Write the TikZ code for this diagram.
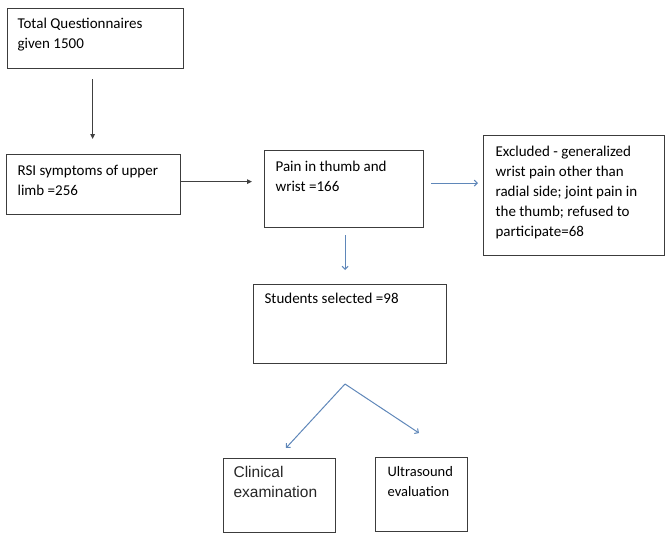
\documentclass[tikz,border=0pt]{standalone}
\usepackage{fontspec}
\setmainfont{Carlito}
\newfontfamily\arialfont{Liberation Sans}
\usetikzlibrary{arrows.meta}
\definecolor{flowblue}{RGB}{95,135,185}
\definecolor{boxgray}{RGB}{60,60,60}

\begin{document}
\begin{tikzpicture}[x=1pt, y=-1pt, line width=1.2pt,
  box/.style={draw=boxgray, anchor=north west, inner sep=0pt},
  txt/.style={anchor=north west, align=left, inner sep=0pt, font=\fontsize{15}{20}\selectfont},
  arialtxt/.style={txt, font=\arialfont\fontsize{15.5}{19.5}\selectfont, text=black!85},
  blackarrow/.style={draw=black!75, line width=1pt, -{Triangle[length=5pt, width=4.5pt]}},
  bluearrow/.style={draw=flowblue, line width=1pt, -{Straight Barb[length=3pt, width=6pt]}}]
  \useasboundingbox (0,0) rectangle (665,533); % page size
  % boxes
  \node[box, minimum width=176pt, minimum height=60pt] (total) at (7,8) {};
  \node[box, minimum width=174pt, minimum height=60pt] (rsi) at (6,154) {};
  \node[box, minimum width=159pt, minimum height=77pt] (pain) at (264,150) {};
  \node[box, minimum width=181pt, minimum height=120pt] (excl) at (483,135) {};
  \node[box, minimum width=193pt, minimum height=79pt] (students) at (253,284) {};
  \node[box, minimum width=112pt, minimum height=74pt] (clinical) at (223,458) {};
  \node[box, minimum width=92pt, minimum height=74pt] (ultra) at (375,457) {};
  % texts
  \node[txt] (total-t) at ([shift={(10pt,-9pt)}]total.north west) {Total Questionnaires\\given 1500};
  \node[txt] (rsi-t) at ([shift={(11pt,-11pt)}]rsi.north west) {RSI symptoms of upper\\limb =256};
  \node[txt] (pain-t) at ([shift={(11pt,-10pt)}]pain.north west) {Pain in thumb and\\wrist =166};
  \node[txt] (excl-t) at ([shift={(12pt,-10pt)}]excl.north west) {Excluded - generalized\\wrist pain other than\\radial side; joint pain in\\the thumb; refused to\\participate=68};
  \node[txt] (students-t) at ([shift={(11pt,-8pt)}]students.north west) {Students selected =98};
  \node[arialtxt] (clinical-t) at ([shift={(10pt,-8pt)}]clinical.north west) {Clinical\\examination};
  \node[txt, font=\fontsize{14.5}{19.5}\selectfont] (ultra-t) at ([shift={(12pt,-9pt)}]ultra.north west) {Ultrasound\\evaluation};
  % arrows
  \draw[blackarrow, shorten <=10pt, shorten >=15pt] ([xshift=-3pt]total.south) -- ([xshift=-3pt]total.south |- rsi.north);
  \draw[blackarrow, shorten >=12pt] ([yshift=3pt]rsi.east) -- ([yshift=3pt]rsi.east -| pain.west);
  \draw[bluearrow, shorten <=7pt, shorten >=5pt] ([yshift=6pt]pain.east) -- ([yshift=6pt]pain.east -| excl.west);
  \draw[bluearrow, shorten <=7pt, shorten >=14pt] ([xshift=1pt]pain.south) -- ([xshift=1pt]pain.south |- students.north);
  \coordinate (fork) at (345,384);
  \coordinate (clinical-in) at (286,448);
  \coordinate (ultra-in) at (419,433);
  \draw[bluearrow] (fork) -- (clinical-in);
  \draw[bluearrow] (fork) -- (ultra-in);
\end{tikzpicture}
\end{document}
